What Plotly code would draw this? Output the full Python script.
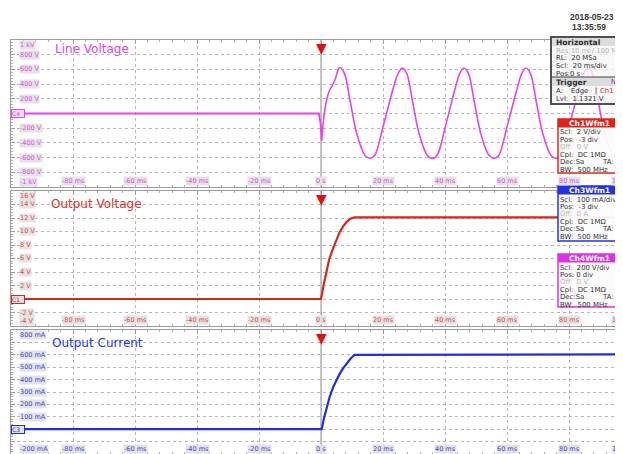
import plotly.graph_objects as go

# the page puts the plot 8 px in from the top-left corner, so the figure is
# made 8 px smaller and every reference pixel position is shifted by OFF
OFF = 8
W = 623 - OFF
H = 454 - OFF

# ---- data ----
# time in ms, trigger at 0
lv_t = [-100, -0.7, -0.2, 0.2, 0.6,
        1.5, 2.6, 3.4, 4.5, 5.3, 6.1, 7.6, 9.3, 11.5, 14.1, 15.8, 17.4, 20.0,
        23.0, 24.8, 26.2, 27.7, 29.4, 31.6, 34.2, 35.9, 37.5, 40.1,
        43.0, 44.7, 46.1, 47.6, 49.3, 51.5, 54.1, 55.8, 57.4, 60.0,
        63.0, 64.7, 66.1, 67.6, 69.3, 71.5, 74.1, 75.8, 77.4, 80.0,
        83.0, 84.7, 86.1, 87.6, 89.3, 91.5, 94.1, 95.8, 97.4]
lv_v = [0, 0, -120, -370, -160,
        120, 300, 365, 455, 570, 625, 540, 190, -270, -565, -610, -565, -180,
        300, 540, 618, 540, 190, -270, -565, -612, -565, -180,
        300, 540, 620, 540, 190, -270, -565, -610, -565, -180,
        300, 540, 620, 540, 190, -270, -565, -610, -565, -180,
        300, 540, 618, 540, 190, -270, -565, -608, -590]

ov_t = [-100, 0.0, 0.8, 1.6, 2.6, 3.8, 5.0, 6.0, 7.2, 8.2, 9.5, 10.8, 97.4]
ov_v = [0, 0, 2.0, 3.9, 5.8, 7.4, 8.8, 9.9, 10.8, 11.4, 11.9, 12.1, 12.1]

oc_t = [-100, 0.2, 1.0, 1.8, 2.8, 3.9, 5.0, 6.0, 7.1, 8.2, 9.5, 10.8, 97.4]
oc_v = [0, 0, 95, 178, 262, 338, 400, 446, 490, 528, 568, 600, 603]

trigger_time = 0

# tick labels
x_ticks = [-80, -60, -40, -20, 0, 20, 40, 60, 80]
x_labels = ['-80 ms', '-60 ms', '-40 ms', '-20 ms', '0 s', '20 ms', '40 ms', '60 ms', '80 ms']

p1_ticks = [1000, 800, 600, 400, 200, -200, -400, -600, -800, -1000]
p1_labels = ['1 kV', '800 V', '600 V', '400 V', '200 V', '-200 V', '-400 V', '-600 V', '-800 V', '-1 kV']
p2_ticks = [16, 14, 12, 10, 8, 6, 4, 2, -2, -4]
p2_labels = ['16 V', '14 V', '12 V', '10 V', '8 V', '6 V', '4 V', '2 V', '-2 V', '-4 V']
p3_ticks = [800, 600, 500, 400, 300, 200, 100, -200]
p3_labels = ['800 mA', '600 mA', '500 mA', '400 mA', '300 mA', '200 mA', '100 mA', '-200 mA']

MAG = '#e444e8'
RED = '#d9261a'
BLUE = '#1e2ee4'
FONT = 'DejaVu Sans'


def px(x):
    return (x - OFF) / W


def py(y):
    return 1 - (y - OFF) / H


fig = go.Figure()

# Line voltage: flat part + trigger glitch straight, sine part smoothed
fig.add_trace(go.Scatter(x=lv_t[:5], y=lv_v[:5], mode='lines',
                         line=dict(color=MAG, width=1.8), xaxis='x', yaxis='y'))
fig.add_trace(go.Scatter(x=lv_t[4:], y=lv_v[4:], mode='lines',
                         line=dict(color=MAG, width=1.6, shape='spline', smoothing=0.9),
                         xaxis='x', yaxis='y'))
fig.add_trace(go.Scatter(x=ov_t, y=ov_v, mode='lines',
                         line=dict(color=RED, width=2.2), xaxis='x2', yaxis='y2'))
fig.add_trace(go.Scatter(x=oc_t, y=oc_v, mode='lines',
                         line=dict(color=BLUE, width=2.2), xaxis='x3', yaxis='y3'))

# ---- axes ----
xdom = [px(11), 1]
xcommon = dict(domain=xdom, range=[-100, 97.4], showticklabels=False,
               showgrid=True, gridcolor='#b8b8b8', griddash='dot', gridwidth=1,
               dtick=20, tick0=0, zeroline=False,
               showline=True, linecolor='#9c9c9c', linewidth=1, mirror='ticks',
               ticks='inside', ticklen=4, tickcolor='#9c9c9c',
               minor=dict(dtick=4, ticks='inside', ticklen=2, tickcolor='#b0b0b0'))


def ycommon(rng, dt, dom):
    return dict(domain=dom, range=rng, dtick=dt, tick0=0, showticklabels=False,
                showgrid=True, gridcolor='#b8b8b8', griddash='dot', gridwidth=1,
                zeroline=False, showline=True, linecolor='#9c9c9c', linewidth=1,
                mirror='ticks', ticks='inside', ticklen=4, tickcolor='#9c9c9c',
                minor=dict(dtick=dt / 5, ticks='inside', ticklen=2, tickcolor='#b0b0b0'))


dom1 = [py(187), py(40)]
dom2 = [py(326), py(191)]
dom3 = [0, py(330)]

fig.update_layout(
    xaxis=dict(xcommon, anchor='y'),
    xaxis2=dict(xcommon, anchor='y2', matches='x'),
    xaxis3=dict(xcommon, anchor='y3', matches='x'),
    yaxis=dict(ycommon([-1000, 1000], 200, dom1), anchor='x'),
    yaxis2=dict(ycommon([-4, 16], 2, dom2), anchor='x2'),
    yaxis3=dict(ycommon([-200, 800], 100, dom3), anchor='x3'),
)

shapes = []
ann = []

# solid trigger-time line in each panel
for xr, yr in [('x', 'y'), ('x2', 'y2'), ('x3', 'y3')]:
    shapes.append(dict(type='line', xref=xr, yref=yr + ' domain', x0=trigger_time, x1=trigger_time,
                       y0=0, y1=1, line=dict(color='#8a8a8a', width=1), layer='below'))
    ann.append(dict(xref=xr, yref=yr + ' domain', x=trigger_time, y=1.0, xanchor='center',
                    yanchor='top', yshift=2, text='\u25BC', showarrow=False,
                    font=dict(family=FONT, size=14, color='#e01010')))

# y tick labels inside the panels
panels = [('y', p1_ticks, p1_labels, '#e050e6', 1000, -1000),
          ('y2', p2_ticks, p2_labels, '#e04a40', 16, -4),
          ('y3', p3_ticks, p3_labels, '#3a48e0', 800, -200)]
for yr, ticks, labels, col, top, bot in panels:
    for v, lab in zip(ticks, labels):
        shift = 0
        if v == top:
            shift = -5
        if v == bot:
            shift = 5
        ann.append(dict(xref='paper', yref=yr, x=px(19), y=v, xanchor='left', yanchor='middle',
                        yshift=shift, text=lab, showarrow=False, bgcolor='#e3e3e3', borderpad=0,
                        font=dict(family=FONT, size=6.5, color=col)))

# channel ground markers
for yr, name, col in [('y', 'C4', MAG), ('y2', 'C1', RED), ('y3', 'C3', BLUE)]:
    ann.append(dict(xref='paper', yref=yr, x=px(11), y=0, xanchor='left', yanchor='middle',
                    text=name + '  ', showarrow=False, bgcolor='#e3e3e3', bordercolor=col,
                    borderwidth=1, borderpad=0, font=dict(family=FONT, size=6, color=col)))

# x tick labels at the bottom of every panel
for xr, ybot, col in [('x', 181, '#e050e6'), ('x2', 320, '#e04a40'), ('x3', 449, '#3a48e0')]:
    for t, lab in zip(x_ticks, x_labels):
        ann.append(dict(xref=xr, yref='paper', x=t, y=py(ybot), xanchor='center', yanchor='middle',
                        text=lab, showarrow=False, bgcolor='#e3e3e3', borderpad=0,
                        font=dict(family=FONT, size=6.5, color=col)))
    ann.append(dict(xref=xr + ' domain', yref='paper', x=1.0, y=py(ybot), xanchor='left',
                    yanchor='middle', xshift=-12, text='100 ms', showarrow=False,
                    bgcolor='#e3e3e3', borderpad=0, font=dict(family=FONT, size=6.5, color=col)))

# panel titles
for x0, y0, txt_, col in [(53, 49, 'Line Voltage', '#e040ee'),
                          (49, 204, 'Output Voltage', '#e0301e'),
                          (50, 343, 'Output Current', '#2438e6')]:
    ann.append(dict(xref='paper', yref='paper', x=px(x0), y=py(y0), xanchor='left', yanchor='middle',
                    text=txt_, showarrow=False, font=dict(family=FONT, size=12, color=col)))

# timestamp
ann.append(dict(xref='paper', yref='paper', x=px(592), y=py(17), xanchor='center', yanchor='middle',
                text='<b>2018-05-23</b>', showarrow=False,
                font=dict(family='Liberation Sans', size=8.5, color='#3a3a3a')))
ann.append(dict(xref='paper', yref='paper', x=px(589), y=py(27), xanchor='center', yanchor='middle',
                text='<b>13:35:59</b>', showarrow=False,
                font=dict(family='Liberation Sans', size=8.5, color='#3a3a3a')))
ann.append(dict(xref='paper', yref='paper', x=px(620), y=py(18), xanchor='center', yanchor='middle',
                text='<b>&lt;</b>', showarrow=False, font=dict(family=FONT, size=13, color='#f07a28')))


def txt(x, y, s, col='#303030', size=6.9, bold=False):
    if bold:
        s = '<b>' + s + '</b>'
    ann.append(dict(xref='paper', yref='paper', x=px(x), y=py(y), xanchor='left', yanchor='middle',
                    text=s, showarrow=False, borderpad=0,
                    font=dict(family=FONT, size=size, color=col)))


def rect(x0, y0, x1, y1, fill, line=None, lw=0):
    shapes.append(dict(type='rect', xref='paper', yref='paper', x0=px(x0), x1=px(x1),
                       y0=py(y1), y1=py(y0), fillcolor=fill, layer='above',
                       line=dict(color=line if line else fill, width=lw)))


# Horizontal / Trigger box
rect(551, 37, 640, 104, 'rgba(246,246,246,0.82)', '#505050', 2)
rect(552, 38, 640, 46, '#dcdcdc')
rect(552, 77, 640, 86, '#dcdcdc')
shapes.append(dict(type='line', xref='paper', yref='paper', x0=px(552), x1=1.05, y0=py(77), y1=py(77),
                   line=dict(color='#404040', width=1.2), layer='above'))
txt(555, 42, 'Horizontal', size=7.6, bold=True)
txt(555, 50.5, 'Res:10 ns / 100 MS', col='#b4b4b4')
txt(555, 58, 'RL:  20 MSa')
txt(555, 66, 'Scl:  20 ms/div')
txt(555, 73.5, 'Pos:0 s')
txt(555, 82, 'Trigger', size=7.6, bold=True)
txt(610, 82, 'Nor', col='#9a2aa8')
txt(555, 91, 'A:')
txt(570, 91, 'Edge')
txt(593, 91, '\u0283', col='#505050')
txt(599, 91, 'Ch1', col='#e02418')
txt(555, 99, 'Lvl:  1.1321 V')

# channel setting boxes
boxes = [(119, 173, '#e02418', 'Ch1Wfm1',
          ['Scl:  2 V/div', 'Pos:  -3 div', 'Off:  0 V', 'Cpl:  DC 1M\u03A9', 'Dec:Sa', 'BW:  500 MHz']),
         (186, 241, '#2232e2', 'Ch3Wfm1',
          ['Scl:  100 mA/div', 'Pos:  -3 div', 'Off:  0 A', 'Cpl:  DC 1M\u03A9', 'Dec:Sa', 'BW:  500 MHz']),
         (254, 307, '#e030e4', 'Ch4Wfm1',
          ['Scl:  200 V/div', 'Pos: 0 div', 'Off:  0 V', 'Cpl:  DC 1M\u03A9', 'Dec:Sa', 'BW:  500 MHz'])]
for y0, y1, col, head, lines in boxes:
    rect(558, y0, 640, y1, 'rgba(252,252,252,0.95)', col, 1.5)
    rect(558, y0, 640, y0 + 8.5, col)
    rect(617, y0 + 2, 623, y0 + 6.5, '#c9a24a', '#6a5020', 0.5)
    ann.append(dict(xref='paper', yref='paper', x=px(589), y=py(y0 + 4.5), xanchor='center',
                    yanchor='middle', text='<b>' + head + '</b>', showarrow=False, borderpad=0,
                    font=dict(family=FONT, size=7.6, color='white')))
    for i, s in enumerate(lines):
        yy = y0 + 13.5 + i * 7.4
        txt(559, yy, s, col='#b4b4b4' if i == 2 else '#303030')
        if i == 4:
            txt(601, yy, 'TA: Off')

fig.update_layout(
    width=W, height=H,
    margin=dict(l=0, r=0, t=0, b=0),
    paper_bgcolor='white', plot_bgcolor='white',
    showlegend=False,
    shapes=shapes,
    annotations=ann,
)

fig.write_html("out.html")
